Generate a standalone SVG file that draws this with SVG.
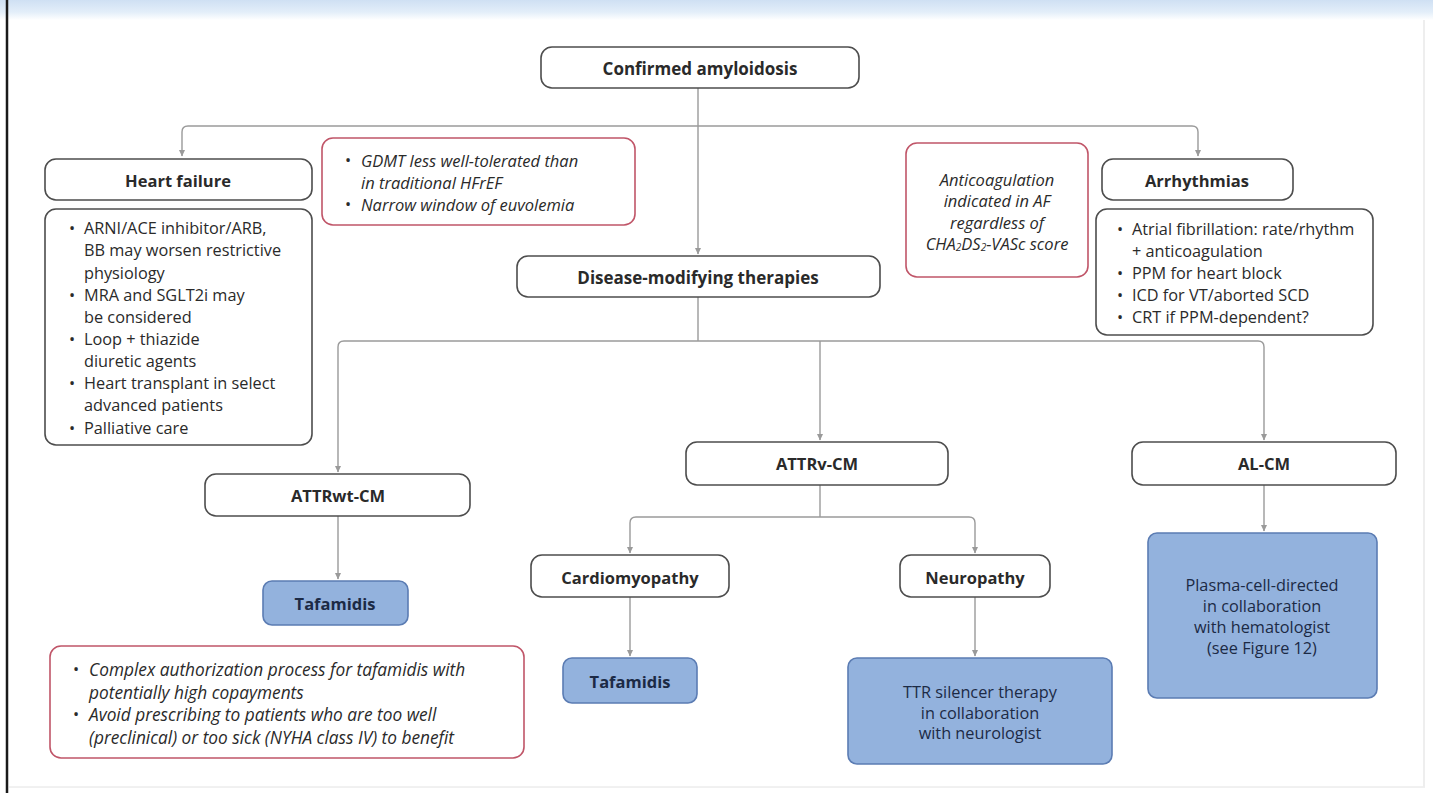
<svg xmlns="http://www.w3.org/2000/svg" width="1433" height="793" viewBox="0 0 1433 793">
<defs>
<linearGradient id="hdr" x1="0" y1="0" x2="0" y2="1">
<stop offset="0" stop-color="#cfe0f3"/>
<stop offset="0.6" stop-color="#e3eef9"/>
<stop offset="1" stop-color="#ffffff"/>
</linearGradient>
<marker id="arr" viewBox="0 0 8 8" refX="7" refY="4" markerWidth="7" markerHeight="7" markerUnits="userSpaceOnUse" orient="auto">
<path d="M0,0.5 L7.5,4 L0,7.5 z" fill="#9a9a9a"/>
</marker>
<style>
.box{fill:#ffffff;stroke:#4d4d4d;stroke-width:1.6}
.note{fill:#ffffff;stroke:#c05568;stroke-width:1.6}
.blue{fill:#93b2dd;stroke:#5b7cb3;stroke-width:1.6}
.con{fill:none;stroke:#9a9a9a;stroke-width:1.4}
text{font-family:"Open Sans","Noto Sans","DejaVu Sans",sans-serif;fill:#2a2a2a;dominant-baseline:central}
.t{font-size:16.5px;font-weight:700;text-anchor:middle}
.tl{font-size:17px;font-weight:700;text-anchor:middle}
.b{font-size:16.3px}
.i{font-size:16.5px;font-style:italic}
.ir{font-size:17.3px;font-style:italic}
.c{text-anchor:middle}
.bt{font-size:16.3px;fill:#1c2a45;text-anchor:middle}
</style>
</defs>
<rect x="0" y="0" width="1433" height="793" fill="#ffffff"/>
<rect x="0" y="0" width="1433" height="20" fill="url(#hdr)"/>
<line x1="7" y1="0" x2="7" y2="793" stroke="#1a1a1a" stroke-width="2.5"/>
<line x1="9" y1="787" x2="1425" y2="787" stroke="#e2e2e2" stroke-width="1"/>
<line x1="1424" y1="20" x2="1424" y2="787" stroke="#eeeeee" stroke-width="2"/>

<g id="connectors">
<path class="con" d="M698,88 V254" marker-end="url(#arr)"/>
<path class="con" d="M698,126 H188 Q182,126 182,132 V156" marker-end="url(#arr)"/>
<path class="con" d="M698,126 H1192 Q1198,126 1198,132 V156" marker-end="url(#arr)"/>
<path class="con" d="M698,297 V341"/>
<path class="con" d="M698,341 H344 Q338,341 338,347 V472" marker-end="url(#arr)"/>
<path class="con" d="M698,341 H1258 Q1264,341 1264,347 V440" marker-end="url(#arr)"/>
<path class="con" d="M820,341 V440" marker-end="url(#arr)"/>
<path class="con" d="M820,485 V517"/>
<path class="con" d="M820,517 H636 Q630,517 630,523 V553" marker-end="url(#arr)"/>
<path class="con" d="M820,517 H969 Q975,517 975,523 V553" marker-end="url(#arr)"/>
<path class="con" d="M338,516 V579" marker-end="url(#arr)"/>
<path class="con" d="M630,597 V656" marker-end="url(#arr)"/>
<path class="con" d="M975,597 V656" marker-end="url(#arr)"/>
<path class="con" d="M1264,485 V531" marker-end="url(#arr)"/>
</g>

<g id="confirmed">
<rect class="box" x="541" y="47" width="318" height="41" rx="11"/>
<text class="tl" x="700" y="68">Confirmed amyloidosis</text>
</g>

<g id="heart-failure">
<rect class="box" x="45" y="159" width="267" height="41" rx="11"/>
<text class="t" x="178" y="180">Heart failure</text>
</g>

<g id="hf-list">
<rect class="box" x="45" y="209" width="267" height="236" rx="11"/>
<text class="b" x="69" y="228">•</text><text class="b" x="84" y="228">ARNI/ACE inhibitor/ARB,</text>
<text class="b" x="84" y="250">BB may worsen restrictive</text>
<text class="b" x="84" y="273">physiology</text>
<text class="b" x="69" y="295">•</text><text class="b" x="84" y="295">MRA and SGLT2i may</text>
<text class="b" x="84" y="317">be considered</text>
<text class="b" x="69" y="339">•</text><text class="b" x="84" y="339">Loop + thiazide</text>
<text class="b" x="84" y="361">diuretic agents</text>
<text class="b" x="69" y="383">•</text><text class="b" x="84" y="383">Heart transplant in select</text>
<text class="b" x="84" y="405">advanced patients</text>
<text class="b" x="69" y="428">•</text><text class="b" x="84" y="428">Palliative care</text>
</g>

<g id="gdmt-note">
<rect class="note" x="322" y="138" width="313" height="87" rx="11"/>
<text class="b" x="345" y="160">•</text><text class="i" x="361" y="160">GDMT less well-tolerated than</text>
<text class="i" x="361" y="182">in traditional HFrEF</text>
<text class="b" x="345" y="204">•</text><text class="i" x="361" y="204">Narrow window of euvolemia</text>
</g>

<g id="disease-modifying">
<rect class="box" x="517" y="256" width="363" height="41" rx="11"/>
<text class="tl" x="698" y="277">Disease-modifying therapies</text>
</g>

<g id="anticoag-note">
<rect class="note" x="906" y="143" width="182" height="134" rx="11"/>
<text class="i c" x="997" y="179">Anticoagulation</text>
<text class="i c" x="997" y="200">indicated in AF</text>
<text class="i c" x="997" y="222">regardless of</text>
<text class="i c" x="997" y="243" font-size="16px">CHA<tspan font-size="10" dy="4">2</tspan><tspan dy="-4">DS</tspan><tspan font-size="10" dy="4">2</tspan><tspan dy="-4">-VASc score</tspan></text>
</g>

<g id="arrhythmias">
<rect class="box" x="1102" y="159" width="191" height="41" rx="11"/>
<text class="t" x="1197" y="180">Arrhythmias</text>
</g>

<g id="arr-list">
<rect class="box" x="1096" y="209" width="277" height="126" rx="11"/>
<text class="b" x="1117" y="229">•</text><text class="b" x="1132" y="229">Atrial fibrillation: rate/rhythm</text>
<text class="b" x="1132" y="251">+ anticoagulation</text>
<text class="b" x="1117" y="273">•</text><text class="b" x="1132" y="273">PPM for heart block</text>
<text class="b" x="1117" y="295">•</text><text class="b" x="1132" y="295">ICD for VT/aborted SCD</text>
<text class="b" x="1117" y="317">•</text><text class="b" x="1132" y="317">CRT if PPM-dependent?</text>
</g>

<g id="attrwt">
<rect class="box" x="205" y="474" width="265" height="42" rx="11"/>
<text class="t" x="338" y="495">ATTRwt-CM</text>
</g>

<g id="tafamidis-wt">
<rect class="blue" x="263" y="581" width="145" height="44" rx="9"/>
<text class="t" x="335" y="603" style="fill:#1c2a45">Tafamidis</text>
</g>

<g id="tafamidis-note">
<rect class="note" x="50" y="646" width="474" height="112" rx="11"/>
<text class="b" x="73" y="669">•</text><text class="ir" x="89" y="669">Complex authorization process for tafamidis with</text>
<text class="ir" x="89" y="692">potentially high copayments</text>
<text class="b" x="73" y="714">•</text><text class="ir" x="89" y="714">Avoid prescribing to patients who are too well</text>
<text class="ir" x="89" y="737">(preclinical) or too sick (NYHA class IV) to benefit</text>
</g>

<g id="attrv">
<rect class="box" x="686" y="442" width="262" height="43" rx="11"/>
<text class="t" x="817" y="463">ATTRv-CM</text>
</g>

<g id="cardiomyopathy">
<rect class="box" x="531" y="555" width="198" height="42" rx="11"/>
<text class="t" x="630" y="577">Cardiomyopathy</text>
</g>

<g id="tafamidis-v">
<rect class="blue" x="563" y="658" width="134" height="45" rx="9"/>
<text class="t" x="630" y="681" style="fill:#1c2a45">Tafamidis</text>
</g>

<g id="neuropathy">
<rect class="box" x="900" y="555" width="150" height="42" rx="11"/>
<text class="t" x="975" y="577">Neuropathy</text>
</g>

<g id="ttr-silencer">
<rect class="blue" x="848" y="658" width="264" height="106" rx="9"/>
<text class="bt" x="980" y="692">TTR silencer therapy</text>
<text class="bt" x="980" y="713">in collaboration</text>
<text class="bt" x="980" y="733">with neurologist</text>
</g>

<g id="al-cm">
<rect class="box" x="1132" y="442" width="264" height="43" rx="11"/>
<text class="t" x="1264" y="463">AL-CM</text>
</g>

<g id="plasma-cell">
<rect class="blue" x="1148" y="533" width="229" height="165" rx="9"/>
<text class="bt" x="1262" y="585">Plasma-cell-directed</text>
<text class="bt" x="1262" y="606">in collaboration</text>
<text class="bt" x="1262" y="627">with hematologist</text>
<text class="bt" x="1262" y="648">(see Figure 12)</text>
</g>
</svg>
